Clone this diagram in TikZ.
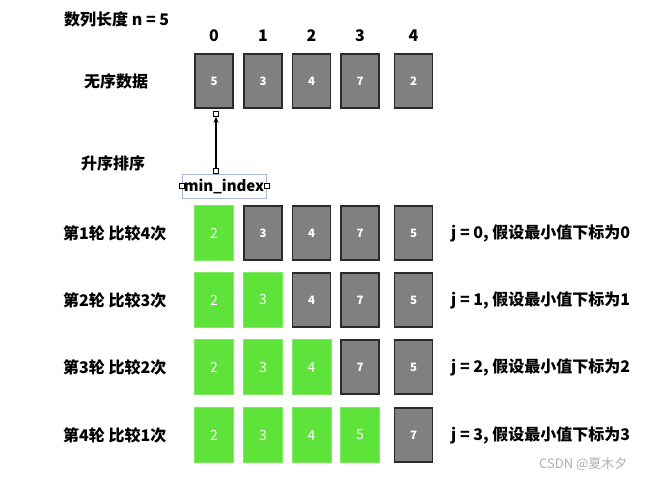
\documentclass[tikz,border=0pt]{standalone}
\usepackage{fontspec}
\setmainfont{Noto Sans CJK SC}
\usetikzlibrary{arrows.meta}
\definecolor{cellgray}{HTML}{808080}
\definecolor{celledge}{HTML}{2A2A2A}
\definecolor{cellgreen}{HTML}{5EE33A}
\definecolor{selblue}{HTML}{A9B8D6}
\definecolor{wmgray}{HTML}{B0B0B0}
\begin{document}
\begin{tikzpicture}[x=1pt,y=-1pt,
  gcell/.style={draw=celledge,line width=1.4pt,fill=cellgray,minimum width=38pt,minimum height=54pt,inner sep=0pt,text=white,font=\fontsize{11.5}{13}\selectfont\bfseries},
  ecell/.style={draw=cellgreen!80!white,line width=0.6pt,fill=cellgreen,minimum width=39pt,minimum height=55pt,inner sep=0pt,text=white,font=\fontsize{14}{16}\selectfont},
  lbl/.style={font=\fontsize{16}{18}\selectfont\bfseries,inner sep=0pt},
  llbl/.style={lbl,anchor=west},
  handle/.style={draw=black,fill=white,line width=0.5pt,minimum size=5pt,inner sep=0pt}]
\useasboundingbox (0,0) rectangle (655,480);
\fill[white] (0,0) rectangle (655,480);

% header
\node[llbl] (title) at (64,19) {数列长度 n = 5};
\foreach \i/\x in {0/214,1/263,2/311.5,3/360,4/413.5}{
  \node[lbl] (idx\i) at (\x,36) {\i};
}
\node[lbl] (unsorted) at (116,81) {无序数据};
\node[lbl] (sortlbl) at (113,163) {升序排序};

% row 0
\foreach \i/\x/\v in {0/214/5,1/263/3,2/311.5/4,3/360/7,4/413.5/2}{
  \node[gcell] (r0c\i) at (\x,81) {\v};
}

% rows 1-4
\node[ecell] (r1c0) at (214,233) {2};
\node[gcell] (r1c1) at (263,233) {3};
\node[gcell] (r1c2) at (311.5,233) {4};
\node[gcell] (r1c3) at (360,233) {7};
\node[gcell] (r1c4) at (413.5,233) {5};

\node[ecell] (r2c0) at (214,300) {2};
\node[ecell] (r2c1) at (263,300) {3};
\node[gcell] (r2c2) at (311.5,300) {4};
\node[gcell] (r2c3) at (360,300) {7};
\node[gcell] (r2c4) at (413.5,300) {5};

\node[ecell] (r3c0) at (214,367) {2};
\node[ecell] (r3c1) at (263,367) {3};
\node[ecell] (r3c2) at (311.5,367) {4};
\node[gcell] (r3c3) at (360,367) {7};
\node[gcell] (r3c4) at (413.5,367) {5};

\node[ecell] (r4c0) at (214,435) {2};
\node[ecell] (r4c1) at (263,435) {3};
\node[ecell] (r4c2) at (311.5,435) {4};
\node[ecell] (r4c3) at (360,435) {5};
\node[gcell] (r4c4) at (413.5,435) {7};

% row labels
\node[llbl] (rl1) at (63,233) {第1轮 比较4次};
\node[llbl] (rl2) at (63,300) {第2轮 比较3次};
\node[llbl] (rl3) at (63,367) {第3轮 比较2次};
\node[llbl] (rl4) at (63,435) {第4轮 比较1次};

\node[llbl] (jl1) at (451,233) {j = 0, 假设最小值下标为0};
\node[llbl] (jl2) at (451,300) {j = 1, 假设最小值下标为1};
\node[llbl] (jl3) at (451,367) {j = 2, 假设最小值下标为2};
\node[llbl] (jl4) at (451,435) {j = 3, 假设最小值下标为3};

% min_index
\node[draw=selblue,line width=0.6pt,minimum width=84pt,minimum height=24pt,inner sep=0pt,font=\fontsize{15}{17}\selectfont\bfseries] (mi) at (224,186) {min\_index};
\coordinate (tipc) at (216,114);
\node[handle] (htop) at (216,171) {};
\node[handle] (hbot) at (tipc) {};
\node[handle] (hleft) at (mi.west) {};
\node[handle] (hright) at (mi.east) {};
\draw[line width=1.4pt,-{Stealth[length=6pt,width=5pt]}] (htop.north) -- (hbot.south);

% watermark
\node[anchor=west,text=wmgray,font=\fontsize{13}{15}\selectfont,inner sep=0pt] (wm) at (539,464) {CSDN @夏木夕};
\end{tikzpicture}
\end{document}
